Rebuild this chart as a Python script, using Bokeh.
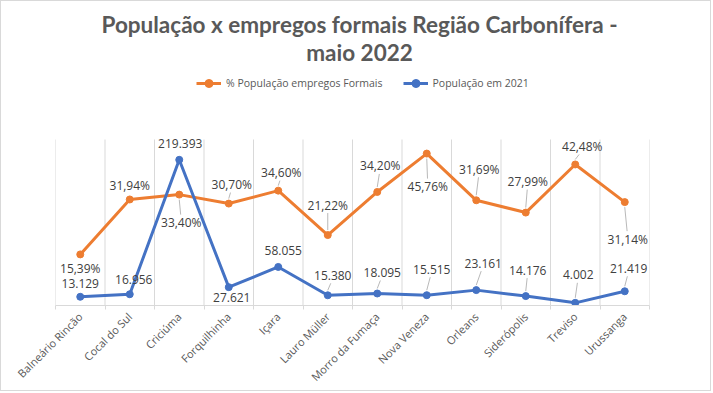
from bokeh.plotting import figure
from bokeh.models import (Range1d, FixedTicker, Legend, LegendItem, ColumnDataSource,
                          Label, CustomJSTickFormatter)
from bokeh.embed import file_html
from bokeh.resources import INLINE
from bokeh.core.properties import value

# ---- data ----
municipios = ["Balneário Rincão", "Cocal do Sul", "Criciúma", "Forquilhinha", "Içara",
              "Lauro Müller", "Morro da Fumaça", "Nova Veneza", "Orleans", "Siderópolis",
              "Treviso", "Urussanga"]
pct_empregos = [15.39, 31.94, 33.40, 30.70, 34.60, 21.22, 34.20, 45.76, 31.69, 27.99, 42.48, 31.14]
populacao_2021 = [13129, 16956, 219393, 27621, 58055, 15380, 18095, 15515, 23161, 14176, 4002, 21419]
pct_max = 50
pop_max = 250000
title_lines = ["População x empregos formais Região Carbonífera -", "maio 2022"]
series_names = ["% População empregos Formais", "População em 2021"]

# ---- label placement (style, pixels) ----
pct_dx = [0, 0, 2, 3, 3, 0, 3, 1, 3, 2, 7, 3]
pct_dy = [14, -14, 28, -19, -18, -30, -26, 33, -31, -31, -18, 37]
pop_dx = [0, 4, 1, 3, 5, 5, 5, 5, 7, 2, 3, 4]
pop_dy = [-13, -15, -16, 10, -16, -20, -21, -26, -27, -26, -28, -23]

ORANGE = "#ED7D31"
BLUE = "#4472C4"
GRID = "#D9D9D9"
TXT = "#404040"

W, H = 711, 391
ML, MR, MT, MB = 54, 63, 0, 87
FW, FH = W - ML - MR, H - MT - MB
PLOT_H = 166          # height of the data area at the bottom of the frame
n = len(municipios)
xs = [i + 0.5 for i in range(n)]

pct_lbl = [f"{v:.2f}".replace(".", ",") + "%" for v in pct_empregos]
pop_lbl = [f"{v:,}".replace(",", ".") for v in populacao_2021]

src = ColumnDataSource(dict(x=xs, pct=pct_empregos, pop=populacao_2021,
                            pct_lbl=pct_lbl, pop_lbl=pop_lbl,
                            pdx=pct_dx, pdy=pct_dy, bdx=pop_dx, bdy=pop_dy))

p = figure(width=W, height=H, output_backend="svg", toolbar_location=None,
           x_range=Range1d(0, n), y_range=Range1d(0, pct_max * FH / PLOT_H),
           y_axis_location=None, min_border_left=ML, min_border_right=MR,
           min_border_top=MT, min_border_bottom=MB)
p.styles = {"border": "1px solid #D9D9D9"}
p.extra_y_ranges = {"pop": Range1d(0, pop_max * FH / PLOT_H)}
p.outline_line_color = None
p.background_fill_color = "white"
p.border_fill_color = "white"

# grid (limited to data area) & axis
p.grid.visible = False
p.segment(x0=list(range(n + 1)), y0=[0] * (n + 1), x1=list(range(n + 1)),
          y1=[pct_max] * (n + 1), line_color=GRID, line_width=1)
p.xaxis.ticker = FixedTicker(ticks=xs, minor_ticks=list(range(n + 1)))
p.xaxis.formatter = CustomJSTickFormatter(args=dict(names=municipios),
                                          code="return names[Math.floor(tick)] || '';")
p.xaxis.major_tick_line_color = None
p.xaxis.minor_tick_line_color = GRID
p.xaxis.minor_tick_out = 4
p.xaxis.minor_tick_in = 0
p.xaxis.axis_line_color = GRID
p.xaxis.major_label_orientation = 0.785398
p.xaxis.major_label_text_font = "Open Sans"
p.xaxis.major_label_text_font_size = "11px"
p.xaxis.major_label_text_color = "#595959"
p.xaxis.major_label_standoff = 3

# leader lines
def leaders(dxs, dys, vals, scale):
    x0, y0, x1, y1 = [], [], [], []
    for i, (dx, dy) in enumerate(zip(dxs, dys)):
        if abs(dy) < 18:
            continue
        s = 1 if dy > 0 else -1
        py0 = s * 5
        py1 = dy - s * 8
        px1 = dx * py1 / dy
        x0.append(xs[i]); y0.append(vals[i] - py0 * scale)
        x1.append(xs[i] + px1 / (FW / n)); y1.append(vals[i] - py1 * scale)
    return x0, y0, x1, y1

lx0, ly0, lx1, ly1 = leaders(pct_dx, pct_dy, pct_empregos, pct_max / PLOT_H)
p.segment(lx0, ly0, lx1, ly1, line_color="#A6A6A6", line_width=0.8)
bx0, by0, bx1, by1 = leaders(pop_dx, pop_dy, populacao_2021, pop_max / PLOT_H)
p.segment(bx0, by0, bx1, by1, line_color="#A6A6A6", line_width=0.8, y_range_name="pop")

# series
l1 = p.line("x", "pct", source=src, line_color=ORANGE, line_width=3)
s1 = p.scatter("x", "pct", source=src, size=7, fill_color=ORANGE, line_color=ORANGE)
l2 = p.line("x", "pop", source=src, line_color=BLUE, line_width=3, y_range_name="pop")
s2 = p.scatter("x", "pop", source=src, size=7, fill_color=BLUE, line_color=BLUE,
               y_range_name="pop")

# data labels
p.text("x", "pct", text="pct_lbl", source=src, x_offset="pdx", y_offset="pdy",
       text_align="center", text_baseline="middle", text_font=value("Open Sans"),
       text_font_size="12px", text_color=TXT)
p.text("x", "pop", text="pop_lbl", source=src, x_offset="bdx", y_offset="bdy",
       text_align="center", text_baseline="middle", text_font=value("Open Sans"),
       text_font_size="12px", text_color=TXT, y_range_name="pop")

legend = Legend(items=[LegendItem(label=series_names[0], renderers=[l1, s1]),
                       LegendItem(label=series_names[1], renderers=[l2, s2])],
                orientation="horizontal", location=(141, 212),
                label_text_font="Open Sans", label_text_font_size="10.5px",
                label_text_color="#595959", glyph_width=25, spacing=20,
                border_line_color=None, background_fill_alpha=0, margin=0, padding=4)
p.add_layout(legend, "center")

for txt, yy in zip(title_lines, [281, 253]):
    p.add_layout(Label(x=304, y=yy, x_units="screen", y_units="screen", text=txt,
                       text_align="center", text_baseline="alphabetic",
                       text_font="Lato", text_font_style="bold",
                       text_font_size="22.5px", text_color="#595959"))

open("out.html", "w").write(file_html(p, INLINE))
